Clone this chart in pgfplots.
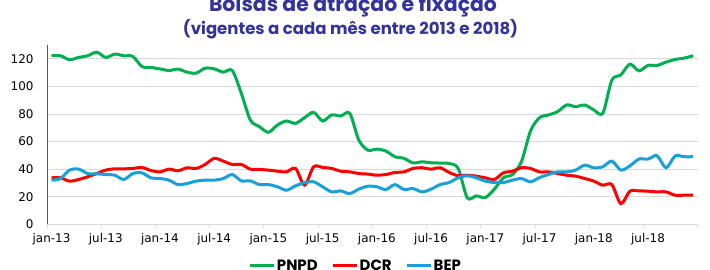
\documentclass[border=0pt]{standalone}
\usepackage{pgfplots}
\pgfplotsset{compat=1.18}
\usepackage{pgfplotstable}
\usepackage{fontspec}
\setmainfont{DejaVu Sans}
\newfontfamily\titlefont{Poppins}
\definecolor{cgreen}{HTML}{00B050}
\definecolor{cred}{HTML}{FF0000}
\definecolor{cblue}{HTML}{17A0DA}
\definecolor{ctitle}{HTML}{333399}
\definecolor{cgrid}{HTML}{D9D9D9}
\definecolor{caxis}{HTML}{595959}

\pgfplotstableread{
i v
0 122.2
1 122.2
2 119.3
3 121.0
4 122.2
5 124.8
6 121.0
7 123.4
8 122.2
9 121.7
10 114.4
11 113.7
12 112.7
13 111.5
14 112.5
15 110.3
16 109.6
17 113.2
18 112.7
19 110.3
20 111.5
21 95.0
22 75.6
23 70.8
24 66.7
25 72.0
26 74.9
27 73.2
28 77.3
29 81.2
30 74.9
31 79.3
32 78.5
33 80.5
34 61.1
35 53.8
36 54.5
37 53.1
38 49.0
39 47.8
40 44.5
41 45.3
42 44.6
43 44.4
44 44.1
45 40.5
46 19.2
47 20.6
48 19.4
49 25.5
50 33.7
51 36.1
52 45.5
53 67.6
54 77.3
55 79.3
56 81.7
57 86.5
58 85.3
59 86.5
60 83.0
61 80.5
62 104.5
63 108.4
64 116.1
65 111.3
66 115.2
67 115.2
68 117.6
69 119.5
70 120.5
71 122.2
}\pnpd

\pgfplotstableread{
i v
0 33.7
1 33.7
2 31.3
3 32.5
4 34.4
5 36.8
6 39.3
7 40.2
8 40.2
9 40.5
10 41.2
11 39.0
12 38.0
13 40.0
14 38.8
15 41.0
16 40.5
17 43.4
18 47.8
19 45.8
20 43.4
21 43.4
22 40.0
23 39.8
24 39.3
25 38.5
26 38.0
27 40.5
28 28.4
29 41.7
30 41.2
31 40.5
32 38.5
33 38.0
34 36.8
35 36.4
36 35.6
37 36.1
38 37.6
39 38.0
40 40.5
41 41.0
42 40.0
43 41.0
44 37.6
45 35.2
46 35.6
47 34.9
48 33.7
49 32.5
50 37.3
51 38.5
52 41.0
53 40.5
54 38.0
55 38.0
56 36.8
57 35.6
58 34.9
59 33.2
60 31.3
61 28.4
62 28.8
63 15.0
64 24.0
65 24.2
66 24.0
67 23.5
68 23.5
69 21.1
70 21.1
71 21.1
}\dcr

\pgfplotstableread{
i v
0 32.0
1 33.2
2 39.3
3 40.0
4 36.8
5 36.6
6 36.1
7 35.6
8 32.5
9 36.8
10 37.3
11 33.7
12 33.2
13 32.0
14 28.8
15 29.6
16 31.3
17 32.0
18 32.0
19 33.2
20 36.1
21 31.5
22 31.5
23 28.8
24 28.8
25 27.2
26 24.7
27 27.9
28 30.1
29 30.8
30 27.2
31 23.5
32 24.2
33 22.3
34 25.5
35 27.6
36 27.2
37 25.2
38 28.8
39 25.2
40 25.9
41 23.5
42 25.5
43 28.8
44 30.3
45 33.7
46 35.2
47 33.7
48 31.3
49 30.3
50 30.3
51 32.0
52 33.2
53 30.8
54 33.9
55 36.1
56 38.0
57 38.0
58 39.3
59 42.9
60 41.0
61 41.7
62 45.8
63 39.3
64 42.4
65 47.3
66 47.3
67 49.7
68 41.0
69 49.5
70 49.0
71 49.0
}\bep

\begin{document}
\begin{tikzpicture}[x=1bp,y=1bp]
\begin{axis}[
  at={(47bp,45.7bp)}, anchor=south west,
  scale only axis, width=650.7bp, height=179.3bp,
  xmin=-0.5, xmax=71.5, ymin=0, ymax=130,
  axis x line*=bottom, axis y line*=left,
  x axis line style={-, color=cgrid, line width=1bp},
  y axis line style={-, color=caxis, line width=1bp},
  ytick={0,20,...,120},
  ymajorgrids, grid style={color=cgrid, line width=0.9bp},
  major tick length=0pt,
  xtick={0,6,...,66},
  xticklabels={jan-13,jul-13,jan-14,jul-14,jan-15,jul-15,jan-16,jul-16,jan-17,jul-17,jan-18,jul-18},
  extra x ticks={-0.5,5.5,...,71.5},
  extra x tick labels={},
  extra x tick style={major tick length=4bp, tick align=outside, xmajorgrids=false, tick style={color=cgrid, line width=1bp}},
  /pgf/number format/assume math mode=true,
  tick label style={font=\fontsize{12}{14}\selectfont, color=black},
  yticklabel style={xshift=-10bp},
  xticklabel style={yshift=-6bp},
  legend style={at={(0.474,-0.232)}, anchor=center, draw=none, fill=none,
    legend columns=3, font=\titlefont\bfseries\fontsize{15}{16}\selectfont,
    nodes={inner sep=1bp},
    /tikz/every even column/.append style={column sep=13bp}},
  legend image code/.code={\draw[#1] (0bp,0bp) -- (24bp,0bp);},
]
\addplot[cgreen, line width=3bp, smooth] table[x=i,y=v] {\pnpd};
\addlegendentry{PNPD}
\addplot[cred, line width=3bp, smooth] table[x=i,y=v] {\dcr};
\addlegendentry{DCR}
\addplot[cblue, line width=3bp, smooth] table[x=i,y=v] {\bep};
\addlegendentry{BEP}
\end{axis}
\node[anchor=base, font=\titlefont\bfseries\fontsize{20.5}{24}\selectfont, color=ctitle] at (353bp,258.5bp) {Bolsas de atração e fixação};
\node[anchor=base, font=\titlefont\bfseries\fontsize{16.6}{19}\selectfont, color=ctitle] at (350.5bp,235.5bp) {(vigentes a cada mês entre 2013 e 2018)};
\pgfresetboundingbox
\useasboundingbox (0,0) rectangle (710bp,270bp);
\end{tikzpicture}
\end{document}
